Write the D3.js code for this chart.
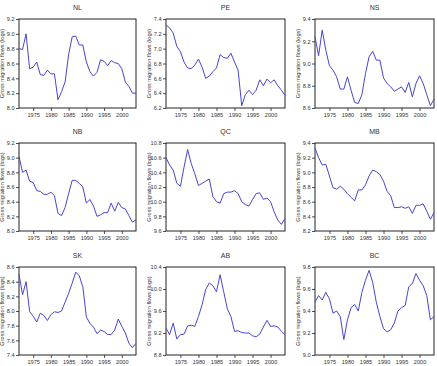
<!DOCTYPE html>
<html><head><meta charset="utf-8">
<script src="https://cdn.jsdelivr.net/npm/d3@7"></script>
<style>body{margin:0;background:#fff}svg{display:block}</style>
</head><body>
<svg id="c" width="437" height="366"></svg>
<script>
const years = d3.range(1971, 2005);
const provinces = ["NL","PE","NS","NB","QC","MB","SK","AB","BC"];
const xTicks = [1975,1980,1985,1990,1995,2000];
const yDomains = [[8.0,9.2],[6.2,7.4],[8.6,9.4],[8.0,9.2],[9.6,10.8],[8.2,9.4],[7.4,8.6],[8.8,10.4],[9.0,9.8]];
const yTickSteps = [0.2,0.2,0.2,0.2,0.2,0.2,0.2,0.4,0.2];
const NL = [8.80,8.79,9.00,8.53,8.55,8.62,8.45,8.44,8.51,8.46,8.46,8.11,8.22,8.35,8.72,8.96,8.97,8.85,8.85,8.62,8.49,8.43,8.48,8.65,8.63,8.57,8.64,8.61,8.60,8.53,8.35,8.29,8.20,8.20];
const PE = [7.32,7.28,7.21,7.03,6.96,6.82,6.74,6.73,6.78,6.86,6.75,6.60,6.63,6.69,6.74,6.92,6.88,6.87,6.94,6.82,6.71,6.23,6.38,6.44,6.38,6.44,6.58,6.50,6.59,6.54,6.58,6.50,6.44,6.37];
const NS = [9.24,9.07,9.30,9.12,8.98,8.94,8.88,8.77,8.77,8.88,8.76,8.65,8.64,8.72,8.91,9.06,9.11,9.03,9.03,8.87,8.82,8.79,8.75,8.77,8.79,8.74,8.83,8.70,8.82,8.89,8.82,8.72,8.62,8.68];
const NB = [9.02,8.80,8.83,8.68,8.66,8.55,8.54,8.50,8.50,8.53,8.48,8.24,8.21,8.32,8.51,8.69,8.69,8.65,8.60,8.38,8.43,8.34,8.20,8.22,8.25,8.25,8.38,8.27,8.39,8.32,8.30,8.21,8.12,8.15];
const QC = [10.60,10.50,10.43,10.25,10.21,10.47,10.71,10.52,10.38,10.22,10.25,10.28,10.31,10.07,10.00,9.98,10.11,10.13,10.13,10.15,10.11,10.00,9.96,9.94,10.03,10.11,10.12,10.03,10.05,10.00,9.86,9.75,9.69,9.77];
const MB = [9.33,9.20,9.10,9.11,8.95,8.79,8.77,8.81,8.77,8.71,8.66,8.61,8.76,8.76,8.83,8.95,9.03,9.01,8.97,8.88,8.74,8.68,8.52,8.52,8.53,8.51,8.53,8.44,8.55,8.55,8.57,8.47,8.36,8.45];
const SK = [8.50,8.22,8.40,7.99,7.93,7.85,7.97,7.94,7.87,7.95,7.99,7.98,8.00,8.12,8.24,8.38,8.53,8.48,8.33,7.92,7.83,7.78,7.69,7.74,7.72,7.68,7.68,7.74,7.89,7.79,7.70,7.56,7.50,7.56];
const AB = [9.29,9.17,9.38,9.09,9.17,9.18,9.33,9.34,9.32,9.50,9.71,9.99,10.11,10.06,9.95,10.26,9.95,9.64,9.50,9.23,9.24,9.21,9.20,9.20,9.15,9.13,9.18,9.31,9.43,9.32,9.33,9.31,9.23,9.17];
const BC = [9.48,9.54,9.50,9.57,9.51,9.38,9.40,9.35,9.14,9.32,9.43,9.46,9.40,9.57,9.68,9.77,9.66,9.48,9.35,9.24,9.21,9.23,9.29,9.40,9.43,9.45,9.62,9.65,9.74,9.68,9.63,9.54,9.32,9.35];
const seriesList = [NL,PE,NS,NB,QC,MB,SK,AB,BC];
const yLabel = "Gross migration flows (logs)";

const svg = d3.select("#c");
const colX = [[19,136],[166,285],[315,434]];
const rowY = [[19,108],[143,231],[267,355]];
const font = "Arial, 'Liberation Sans', sans-serif";

provinces.forEach((name, i) => {
  const c = i % 3, r = Math.floor(i / 3);
  const [x0, x1] = colX[c], [y0, y1] = rowY[r];
  const x = d3.scaleLinear().domain([1971, 2004]).range([x0, x1]);
  const y = d3.scaleLinear().domain(yDomains[i]).range([y1, y0]);
  const g = svg.append("g");
  const [lo, hi] = yDomains[i];
  const st = yTickSteps[i];
  const yt = d3.range(0, Math.round((hi - lo) / st) + 1).map(k => +(lo + k * st).toFixed(1));

  const ya = g.append("g").attr("transform", `translate(${x0},0)`)
    .call(d3.axisLeft(y).tickValues(yt).tickFormat(d3.format(".1f")).tickSize(3).tickPadding(1.5));
  const xa = g.append("g").attr("transform", `translate(0,${y1})`)
    .call(d3.axisBottom(x).tickValues(xTicks).tickFormat(d3.format("d")).tickSize(3).tickPadding(2));
  [ya, xa].forEach(a => {
    a.select(".domain").remove();
    a.selectAll("line").attr("stroke", "#222").attr("stroke-width", 0.8);
    a.selectAll("text").attr("font-family", font).attr("font-size", 5.6).attr("fill", "#333");
  });

  g.append("rect").attr("x", x0).attr("y", y0).attr("width", x1 - x0).attr("height", y1 - y0)
    .attr("fill", "none").attr("stroke", "#222").attr("stroke-width", 1);

  const line = d3.line().x((d, k) => x(years[k])).y(d => y(d));
  g.append("path").datum(seriesList[i]).attr("d", line)
    .attr("fill", "none").attr("stroke", "#4646d2").attr("stroke-width", 1);

  g.append("text").attr("x", (x0 + x1) / 2).attr("y", y0 - 9)
    .attr("text-anchor", "middle").attr("font-family", font).attr("font-size", 7).attr("fill", "#333")
    .text(name);

  g.append("text").attr("transform", `translate(${x0 - 15},${(y0 + y1) / 2}) rotate(-90)`)
    .attr("text-anchor", "middle").attr("font-family", font).attr("font-size", 5.6).attr("fill", "#333")
    .text(yLabel);
});
</script>
</body></html>
